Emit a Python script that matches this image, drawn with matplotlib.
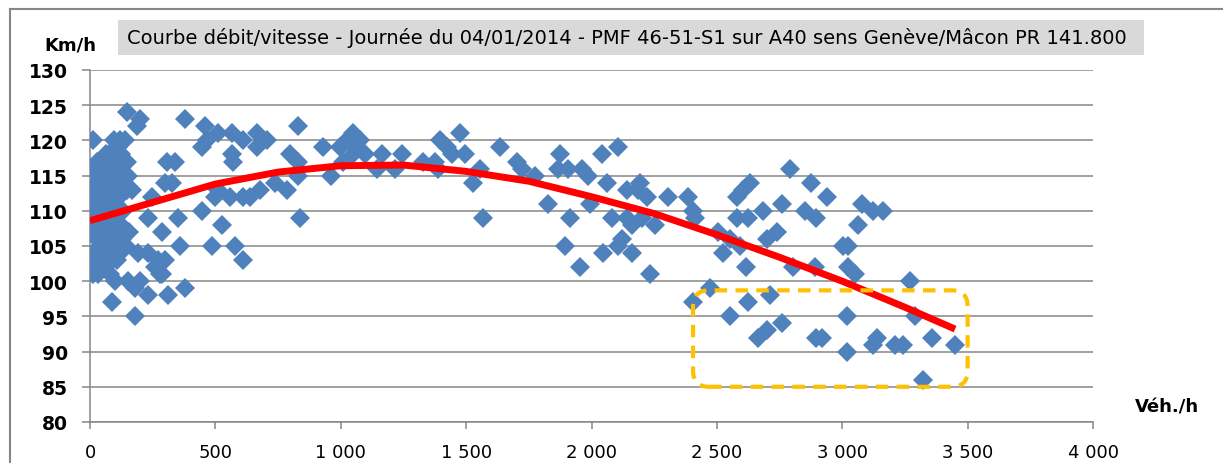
import matplotlib.pyplot as plt
from matplotlib.patches import FancyBboxPatch, Rectangle
from matplotlib.lines import Line2D
from matplotlib.ticker import FuncFormatter

# Mesures 6 min : debit (veh/h) et vitesse moyenne (km/h)
debit = [
    12, 8, 15, 10, 18, 9, 14, 11, 16, 13,
    28, 33, 25, 31, 36, 27, 34, 29, 38, 26, 32,
    47, 52, 45, 50, 55, 48, 53, 46, 51, 58,
    63, 70, 66, 73, 68, 78, 72, 65, 80,
    97, 102, 95, 100, 105, 93, 99, 103, 96, 107, 101, 86,
    118, 125, 121, 128, 116, 131, 123, 127, 120,
    146, 152, 149, 155, 143, 150,
    166, 178, 180, 190,
    146, 200, 186, 379, 140, 113,
    306, 339, 459, 512, 565, 446, 466, 565, 572, 612,
    299, 326, 246, 446, 512, 612, 500, 558,
    233, 286, 352, 485, 525, 579, 612,
    233, 273, 299, 359,
    313, 379, 233, 60, 286, 200, 259, 279,
    831, 665, 704, 665, 797, 930, 1050, 1023, 1077, 997, 1063, 1096, 1163, 1243,
    831, 1010, 1050, 1143, 1216, 1329, 1376, 1396, 1422, 1389, 831, 963,
    678, 738, 784, 638, 837,
    1476, 1635, 1496, 1443, 1702, 1556, 1722, 1775, 1875, 1868, 1908, 1961, 1988,
    2040, 2107, 2061, 2140, 2187, 2193, 1529, 1828, 1994, 1569, 1915, 2080,
    2140, 2160, 2200, 2120, 2107, 2047, 2160, 1894, 1954, 2233,
    2220, 2306, 2386, 2406, 2412, 2253, 2791, 2632, 2605, 2579, 2758, 2877,
    2851, 2897, 2579, 2625, 2685, 2738, 2698, 2505, 2552, 2525, 2592, 2618,
    2804, 2891, 2406, 2472, 2625, 2711, 2552, 2665, 2698, 2758, 2897,
    2938, 3077, 3124, 3163, 3064, 3004, 3024, 3024, 3050, 3270, 3017, 3290,
    2918, 3017, 3137, 3124, 3210, 3243, 3356, 3449, 3323,
]
vitesse = [
    120, 116, 113, 112, 110, 109, 107, 104, 102, 101,
    117, 116, 114, 113, 111, 110, 108, 106, 105, 103, 101,
    117, 115, 113, 112, 110, 109, 107, 105, 104, 102,
    118, 116, 114, 112, 111, 108, 106, 104, 101,
    120, 119, 117, 115, 113, 111, 109, 107, 105, 103, 100, 97,
    120, 118, 116, 114, 112, 110, 108, 106, 104,
    117, 115, 113, 107, 105, 100,
    113, 99, 95, 104,
    124, 123, 122, 123, 120, 119,
    117, 117, 122, 121, 121, 119, 120, 118, 117, 120,
    114, 114, 112, 110, 113, 112, 112, 112,
    109, 107, 109, 105, 108, 105, 103,
    104, 103, 103, 105,
    98, 99, 98, 102, 101, 100, 102, 101,
    122, 121, 120, 119, 118, 119, 121, 120, 120, 119, 119, 118, 118, 118,
    117, 117, 118, 116, 116, 117, 117, 120, 119, 116, 115, 115,
    113, 114, 113, 112, 109,
    121, 119, 118, 118, 117, 116, 116, 115, 118, 116, 116, 116, 115,
    118, 119, 114, 113, 113, 114, 114, 111, 111, 109, 109, 109,
    109, 108, 109, 106, 105, 104, 104, 105, 102, 101,
    112, 112, 112, 110, 109, 108, 116, 114, 113, 112, 111, 114,
    110, 109, 109, 109, 110, 107, 106, 107, 106, 104, 105, 102,
    102, 102, 97, 99, 97, 98, 95, 92, 93, 94, 92,
    112, 111, 110, 110, 108, 105, 105, 102, 101, 100, 95, 95,
    92, 90, 92, 91, 91, 91, 92, 91, 86,
]

# Courbe de tendance (valeurs relevees le long de la courbe)
tend_x = [0, 250, 500, 750, 1000, 1250, 1500, 1750, 2000, 2250, 2500, 2750, 3000, 3250, 3450]
tend_y = [108.6, 111.2, 113.8, 115.5, 116.4, 116.5, 115.6, 114.2, 112.0, 109.6, 106.6, 103.4, 100.0, 96.3, 93.2]

# Zone de congestion encadree
zone_x = [2405, 3500]
zone_y = [85.0, 98.7]

x_ticks = [0, 500, 1000, 1500, 2000, 2500, 3000, 3500, 4000]
y_ticks = [80, 85, 90, 95, 100, 105, 110, 115, 120, 125, 130]

titre = "Courbe débit/vitesse - Journée du 04/01/2014 - PMF 46-51-S1 sur A40 sens Genève/Mâcon PR 141.800"

W, H = 1223, 464
fig = plt.figure(figsize=(W / 100, H / 100), dpi=100)
ax = fig.add_axes([90 / W, 1 - 423 / H, (1093 - 90) / W, (423 - 71) / H])

gris = '#868686'

ax.plot(debit, vitesse, linestyle='none', marker='D', markersize=10,
        color='#4F81BD', markeredgewidth=0, zorder=3)
ax.plot(tend_x, tend_y, color='#FF0000', linewidth=5, solid_capstyle='butt', zorder=4)

# Cadre arrondi en pointilles autour de la zone
sx = 4000 / (1093 - 90)
sy = 50 / (423 - 71)
zone = FancyBboxPatch((zone_x[0], zone_y[0]), zone_x[1] - zone_x[0], zone_y[1] - zone_y[0],
                      boxstyle='round,pad=0,rounding_size=%f' % (16 * sx),
                      mutation_aspect=sy / sx, fill=False, edgecolor='#FFC000',
                      linewidth=3, linestyle=(0, (3, 2)), zorder=5, clip_on=False)
ax.add_patch(zone)

ax.set_xlim(0, 4000)
ax.set_ylim(80, 130)
ax.set_xticks(x_ticks)
ax.set_yticks(y_ticks)
ax.xaxis.set_major_formatter(FuncFormatter(lambda v, p: f"{int(v):,}".replace(",", " ")))
ax.grid(axis='y', color=gris, linewidth=1.1)
ax.set_axisbelow(True)

for side in ['top', 'right']:
    ax.spines[side].set_visible(False)
for side in ['left', 'bottom']:
    ax.spines[side].set_color(gris)
    ax.spines[side].set_linewidth(1.1)

ax.tick_params(axis='y', direction='out', length=6, width=1.1, color=gris, pad=10,
               labelsize=13.5)
ax.tick_params(axis='x', direction='out', length=5, width=1.1, color=gris, pad=10,
               labelsize=13)
for lab in ax.get_yticklabels():
    lab.set_fontweight('bold')

# Titre sur fond gris
fig.patches.append(Rectangle((118 / W, 1 - 56 / H), (1144 - 118) / W, 35 / H,
                             transform=fig.transFigure, facecolor='#D9D9D9',
                             edgecolor='none', zorder=0))
fig.text(627 / W, 1 - 38 / H, titre, ha='center', va='center', fontsize=14)

fig.text(70 / W, 1 - 45 / H, "Km/h", ha='center', va='center', fontsize=13, fontweight='bold')
fig.text(1167 / W, 1 - 407 / H, "Véh./h", ha='center', va='center', fontsize=13, fontweight='bold')

# Bordure de la zone graphique
fig.add_artist(Line2D([10 / W, 10 / W], [0, 1 - 10 / H], transform=fig.transFigure,
                      color=gris, linewidth=1.5))
fig.add_artist(Line2D([10 / W, 1], [1 - 10 / H, 1 - 10 / H], transform=fig.transFigure,
                      color=gris, linewidth=1.5))

fig.savefig('out.png', dpi=100)
